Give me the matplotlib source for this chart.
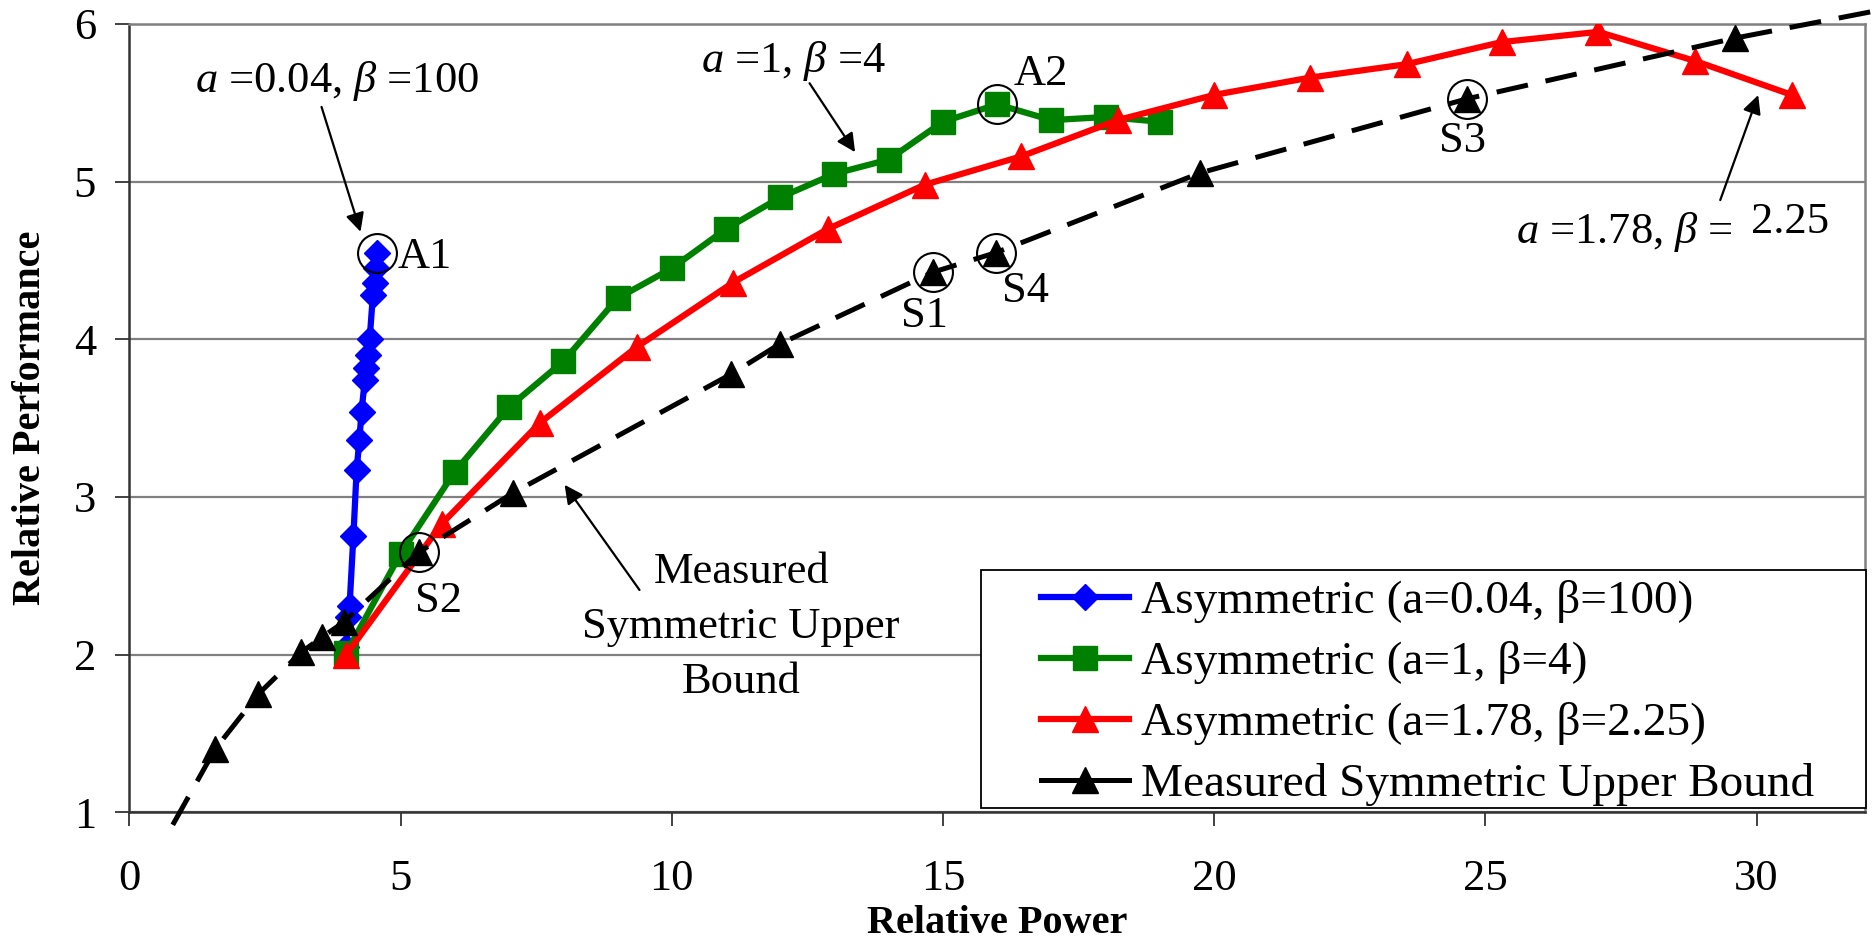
import matplotlib
matplotlib.use('Agg')
import matplotlib.pyplot as plt
from matplotlib.patches import Rectangle

# valeurs
blue_x = [4.00, 4.03, 4.06, 4.13, 4.19, 4.24, 4.28, 4.34, 4.37, 4.40, 4.43, 4.49, 4.52, 4.54, 4.57]
blue_y = [2.05, 2.24, 2.31, 2.75, 3.17, 3.36, 3.54, 3.74, 3.82, 3.90, 4.00, 4.28, 4.36, 4.45, 4.55]

green_x = [4, 5, 6, 7, 8, 9, 10, 11, 12, 13, 14, 15, 16, 17, 18, 19]
green_y = [2.01, 2.64, 3.16, 3.57, 3.86, 4.26, 4.45, 4.70, 4.90, 5.05, 5.14, 5.38, 5.49, 5.39, 5.41, 5.38]

red_x = [4.00, 5.76, 7.57, 9.35, 11.13, 12.88, 14.66, 16.44, 18.22, 20.00, 21.77, 23.55, 25.30, 27.08, 28.87, 30.65]
red_y = [2.00, 2.83, 3.47, 3.95, 4.36, 4.70, 4.98, 5.16, 5.39, 5.55, 5.66, 5.745, 5.885, 5.95, 5.765, 5.55]

bound_x = [1.58, 2.38, 3.17, 3.55, 3.95, 5.34, 7.07, 11.10, 11.99, 14.81, 15.98, 19.74, 24.66, 29.60]
bound_y = [1.40, 1.75, 2.015, 2.11, 2.205, 2.65, 3.025, 3.78, 3.97, 4.425, 4.55, 5.055, 5.525, 5.91]
# prolongement de la courbe en pointilles (sans marqueurs)
bound_lo = (0.80, 0.92)
bound_hi = (32.3, 6.09)

labels = ['Asymmetric (a=0.04, \u03b2=100)', 'Asymmetric (a=1, \u03b2=4)',
          'Asymmetric (a=1.78, \u03b2=2.25)', 'Measured Symmetric Upper Bound']

plt.rcParams['font.family'] = ['Liberation Serif', 'DejaVu Serif']
plt.rcParams['mathtext.fontset'] = 'custom'
plt.rcParams['mathtext.rm'] = 'Liberation Serif'
plt.rcParams['mathtext.it'] = 'Liberation Serif:italic'

fig = plt.figure(figsize=(18.72, 9.4), dpi=100)
ax = fig.add_axes([0.0691, 0.1359, 0.9272, 0.8386])

FS = 32
lw = 4.5

l1, = ax.plot(blue_x, blue_y, color='#0000ff', lw=lw, marker='D', ms=13.5, zorder=2)
l2, = ax.plot(green_x, green_y, color='#008000', lw=lw, marker='s', ms=17, zorder=3)
l3, = ax.plot(red_x, red_y, color='#ff0000', lw=lw, marker='^', ms=18.5, zorder=4)
bx = [bound_lo[0]] + bound_x + [bound_hi[0]]
by = [bound_lo[1]] + bound_y + [bound_hi[1]]
l4, = ax.plot(bx, by, color='k', lw=3.6, dashes=(6.4, 3.6), marker='^', ms=19,
              markevery=slice(1, -1), zorder=5, clip_on=False)

# points entoures
circ_x = [blue_x[-1], green_x[12], bound_x[9], bound_x[10], bound_x[5], bound_x[12]]
circ_y = [blue_y[-1], green_y[12], bound_y[9], bound_y[10], bound_y[5], bound_y[12]]
ax.plot(circ_x, circ_y, 'o', mfc='none', mec='k', mew=1.5, ms=28, zorder=6)

ax.text(4.95, 4.452, 'A1', fontsize=FS)
ax.text(16.31, 5.612, 'A2', fontsize=FS)
ax.text(14.23, 4.079, 'S1', fontsize=FS)
ax.text(16.08, 4.238, 'S4', fontsize=FS)
ax.text(5.26, 2.272, 'S2', fontsize=FS)
ax.text(24.14, 5.189, 'S3', fontsize=FS)

arr = dict(arrowstyle='-|>', color='k', lw=1.6, mutation_scale=28, shrinkA=0, shrinkB=0)
ax.text(1.21, 5.569, r'$a$ =0.04, $\beta$ =100', fontsize=FS)
ax.annotate('', xy=(4.262, 4.682), xytext=(3.543, 5.474), arrowprops=arr)
ax.text(10.53, 5.696, r'$a$ =1, $\beta$ =4', fontsize=FS)
ax.annotate('', xy=(13.38, 5.187), xytext=(12.54, 5.624), arrowprops=arr)
ax.text(25.56, 4.61, r'$a$ =1.78, $\beta$ =', fontsize=FS)
ax.text(29.9, 4.673, '2.25', fontsize=FS)
ax.annotate('', xy=(30.03, 5.549), xytext=(29.33, 4.883), arrowprops=arr)
ax.text(11.28, 2.454, 'Measured', fontsize=FS, ha='center')
ax.text(11.28, 2.105, 'Symmetric Upper', fontsize=FS, ha='center')
ax.text(11.28, 1.756, 'Bound', fontsize=FS, ha='center')
ax.annotate('', xy=(8.024, 3.077), xytext=(9.405, 2.41), arrowprops=arr)

ax.set_xlim(0, 32)
ax.set_ylim(1, 6)
ax.set_xticks([0, 5, 10, 15, 20, 25, 30])
ax.set_yticks([1, 2, 3, 4, 5, 6])
ax.yaxis.grid(True, color='#808080', lw=1.6)
ax.set_axisbelow(True)
ax.tick_params(axis='both', direction='out', length=10, width=1.3, labelsize=FS, color='#333333')
ax.tick_params(axis='x', pad=24)
ax.tick_params(axis='y', pad=14)
for s in ['top', 'right']:
    ax.spines[s].set_color('#808080')
    ax.spines[s].set_linewidth(1.8)
for s in ['left', 'bottom']:
    ax.spines[s].set_color('#333333')
    ax.spines[s].set_linewidth(1.8)

ax.set_xlabel('Relative Power', fontsize=29, fontweight='bold')
ax.xaxis.set_label_coords(0.5, -0.1531)
ax.xaxis.label.set_va('baseline')
ax.set_ylabel('Relative Performance', fontsize=29, fontweight='bold')
ax.yaxis.set_label_coords(-0.0572, 0.5)
ax.yaxis.label.set_va('center')

# cadre de la legende
ax.add_patch(Rectangle((0.4907, 0.0055), 0.5096, 0.302, transform=ax.transAxes,
                       facecolor='white', edgecolor='k', lw=1.3, zorder=7, clip_on=False))
leg = ax.legend([l1, l2, l3, l4], labels, loc='upper left', bbox_to_anchor=(0.5253, 0.2943),
                frameon=False, fontsize=34, borderpad=0, borderaxespad=0,
                handlelength=1.86, handletextpad=0.25, labelspacing=0.38)
leg.set_zorder(8)
leg.legend_handles[3].set_linestyle('-')

fig.savefig('out.png', dpi=100)
